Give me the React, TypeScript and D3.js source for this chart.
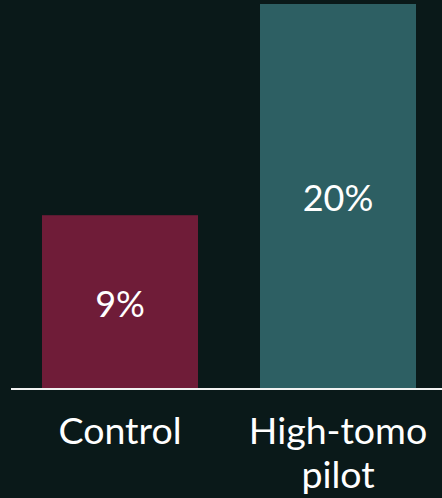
import React from "react";
import * as d3 from "d3";

const categories = ["Control", "High-tomo pilot"];
const labelLines = [["Control"], ["High-tomo", "pilot"]];
const values = [9, 20];
const valueLabels = ["9%", "20%"];
const colors = ["#6f1c38", "#2d5f63"];

const W = 442;
const H = 498;

export default function App() {
  const x = d3
    .scaleBand<string>()
    .domain(categories)
    .range([11, 447])
    .paddingInner(62 / 218)
    .paddingOuter(31 / 218);
  const y = d3.scaleLinear().domain([0, 20]).range([388, 4]);
  const font = "Lato, 'Open Sans', sans-serif";
  return (
    <svg
      width={W}
      height={H}
      style={{ position: "fixed", left: 0, top: 0, background: "#0a1919" }}
    >
      <rect x={0} y={0} width={W} height={H} fill="#0a1919" />
      {categories.map((c, i) => {
        const bx = x(c)!;
        const bw = x.bandwidth();
        const top = y(values[i]);
        const bottom = y(0);
        return (
          <g key={c}>
            <rect x={bx} y={top} width={bw} height={bottom - top} fill={colors[i]} />
            <text
              x={bx + bw / 2}
              y={(top + bottom) / 2 + 15}
              textAnchor="middle"
              fill="#ffffff"
              fontFamily={font}
              fontSize={36}
            >
              {valueLabels[i]}
            </text>
            {labelLines[i].map((ln, j) => (
              <text
                key={j}
                x={bx + bw / 2}
                y={444 + j * 44}
                textAnchor="middle"
                fill="#ffffff"
                fontFamily={font}
                fontSize={37.5}
              >
                {ln}
              </text>
            ))}
          </g>
        );
      })}
      <line x1={11} x2={W} y1={389} y2={389} stroke="#f2f2f2" strokeWidth={2} />
    </svg>
  );
}
